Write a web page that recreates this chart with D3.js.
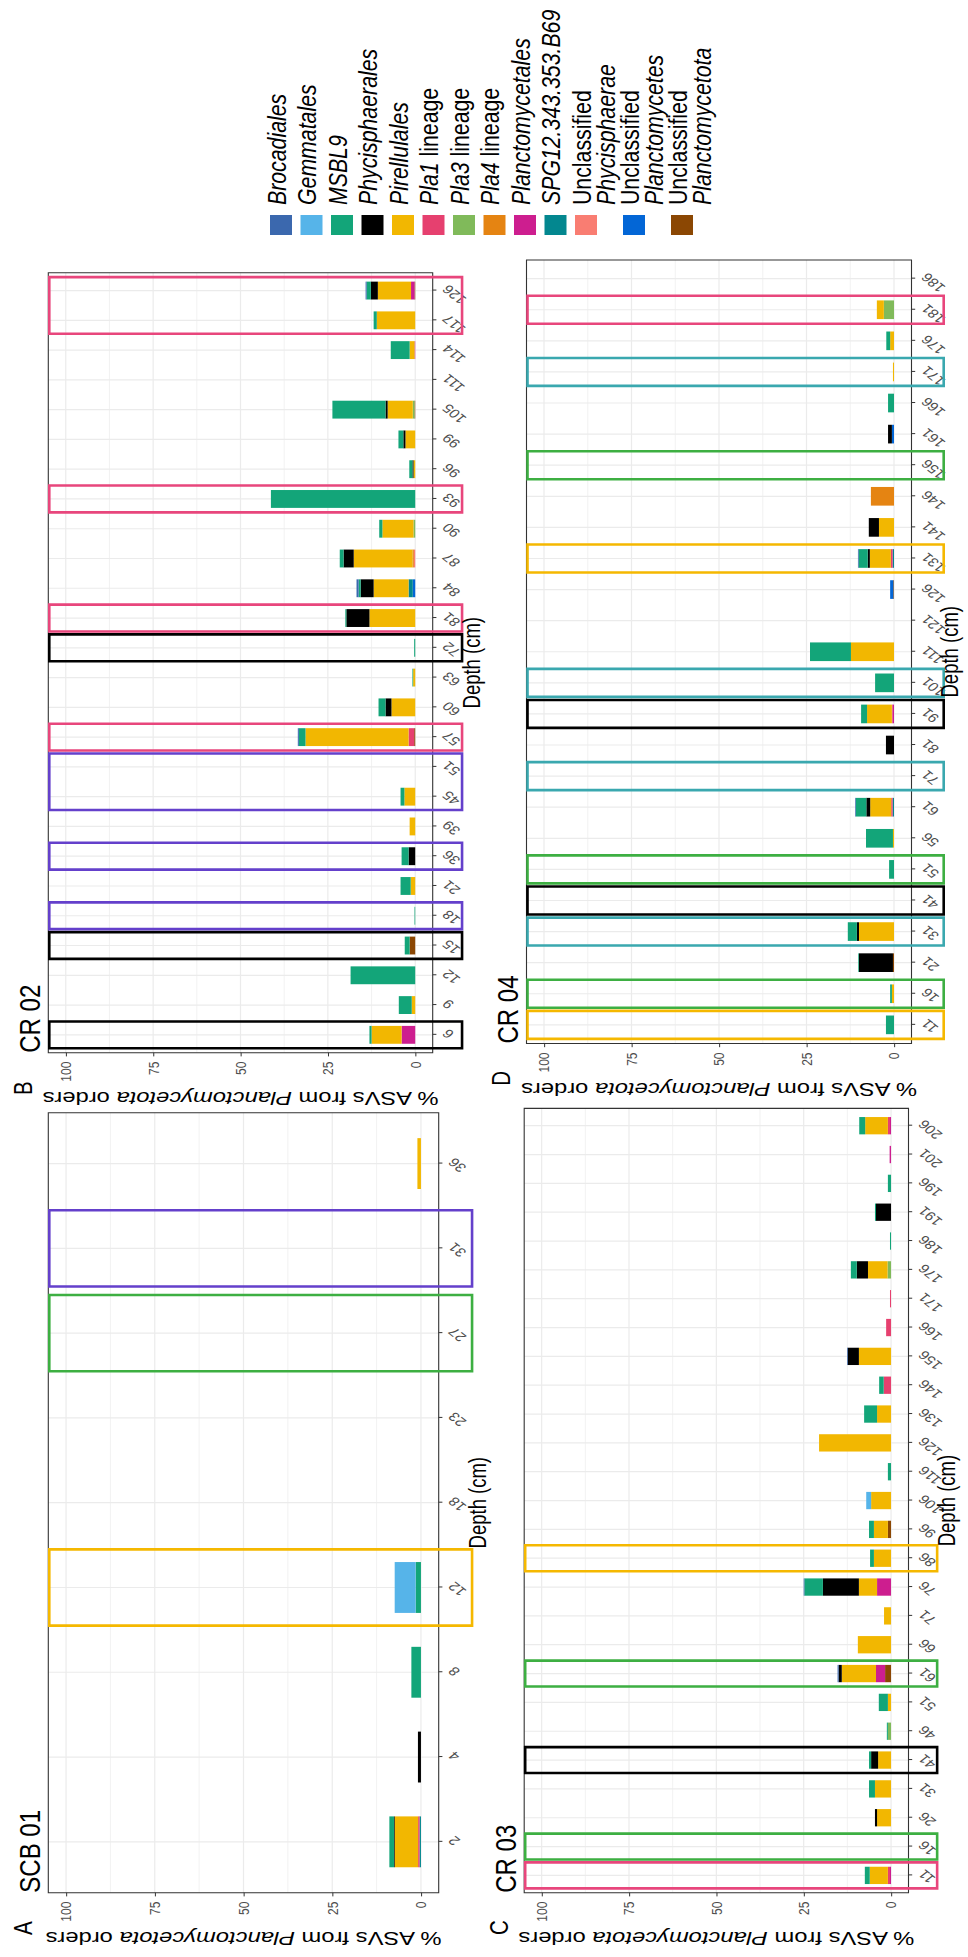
<!DOCTYPE html>
<html>
<head>
<meta charset="utf-8">
<script src="https://cdn.jsdelivr.net/npm/d3@7"></script>
<style>
  body { margin: 0; background: #fff; }
  svg { display: block; }
  text { font-family: "Liberation Sans", Arial, Helvetica, sans-serif; }
</style>
</head>
<body>
<svg id="fig" width="968" height="1957"></svg>
<script>
// ---- Planctomycetota orders (legend order) and fill colours ----
const orders = [
  "Brocadiales", "Gemmatales", "MSBL9", "Phycisphaerales", "Pirellulales",
  "Pla1 lineage", "Pla3 lineage", "Pla4 lineage", "Planctomycetales",
  "SPG12.343.353.B69", "Unclassified Phycisphaerae",
  "Unclassified Planctomycetes", "Unclassified Planctomycetota"
];
const orderColors = [
  "#3B68AE", "#56B4E9", "#13A579", "#000000", "#F2B701",
  "#E6406F", "#80BA5A", "#E58412", "#CD1E8F",
  "#03878F", "#F97D72", "#0366D6", "#8B4703"
];

// ---- % of ASVs per depth (cm) for each core ----
const scb01 = [
  { depth: "2", "MSBL9": 1.3, "Phycisphaerales": 0.2, "Pirellulales": 6.6, "Pla1 lineage": 0.4, "SPG12.343.353.B69": 0.4 },
  { depth: "4", "Phycisphaerales": 0.85 },
  { depth: "8", "MSBL9": 2.7 },
  { depth: "12", "Gemmatales": 5.9, "MSBL9": 1.5 },
  { depth: "18" }, { depth: "23" }, { depth: "27" }, { depth: "31" },
  { depth: "36", "Pirellulales": 1.0 }
];
const cr02 = [
  { depth: "6", "MSBL9": 0.6, "Pirellulales": 8.6, "Planctomycetales": 3.9 },
  { depth: "9", "MSBL9": 3.7, "Pirellulales": 1.0 },
  { depth: "12", "MSBL9": 18.5 },
  { depth: "15", "MSBL9": 1.4, "Unclassified Planctomycetota": 1.6 },
  { depth: "18", "MSBL9": 0.2 },
  { depth: "21", "MSBL9": 2.9, "Pirellulales": 1.3 },
  { depth: "36", "MSBL9": 2.0, "Phycisphaerales": 1.9 },
  { depth: "39", "Pirellulales": 1.6 },
  { depth: "45", "MSBL9": 1.1, "Pirellulales": 3.1 },
  { depth: "51" },
  { depth: "57", "Brocadiales": 0.3, "MSBL9": 1.9, "Pirellulales": 29.5, "Pla1 lineage": 1.6, "Unclassified Planctomycetota": 0.3 },
  { depth: "60", "MSBL9": 2.0, "Phycisphaerales": 1.7, "Pirellulales": 6.8 },
  { depth: "63", "MSBL9": 0.2, "Pirellulales": 0.6 },
  { depth: "72", "MSBL9": 0.3 },
  { depth: "81", "MSBL9": 0.3, "Phycisphaerales": 6.6, "Pirellulales": 13.1 },
  { depth: "84", "Brocadiales": 0.6, "MSBL9": 0.6, "Phycisphaerales": 3.7, "Pirellulales": 10.0, "SPG12.343.353.B69": 1.2, "Unclassified Planctomycetes": 0.7 },
  { depth: "87", "MSBL9": 1.1, "Phycisphaerales": 2.9, "Pirellulales": 16.8, "Pla4 lineage": 0.4, "Unclassified Phycisphaerae": 0.4 },
  { depth: "90", "MSBL9": 0.9, "Pirellulales": 8.9, "Pla3 lineage": 0.5 },
  { depth: "93", "MSBL9": 41.3 },
  { depth: "96", "MSBL9": 0.9, "Phycisphaerales": 0.3, "Pirellulales": 0.5 },
  { depth: "99", "MSBL9": 1.4, "Phycisphaerales": 0.6, "Pirellulales": 2.8 },
  { depth: "105", "MSBL9": 15.2, "Phycisphaerales": 0.6, "Pirellulales": 7.2, "Pla3 lineage": 0.5, "Unclassified Planctomycetota": 0.2 },
  { depth: "111" },
  { depth: "114", "MSBL9": 5.4, "Pirellulales": 1.4, "Planctomycetales": 0.2 },
  { depth: "117", "MSBL9": 0.9, "Pirellulales": 11.0 },
  { depth: "126", "Brocadiales": 0.3, "MSBL9": 1.2, "Phycisphaerales": 2.0, "Pirellulales": 9.5, "Planctomycetales": 1.0, "Unclassified Planctomycetota": 0.2 }
];
const cr03 = [
  { depth: "11", "MSBL9": 1.4, "Pirellulales": 5.2, "Pla1 lineage": 0.6, "Planctomycetales": 0.3 },
  { depth: "16" },
  { depth: "26", "Phycisphaerales": 0.6, "Pirellulales": 4.0 },
  { depth: "31", "MSBL9": 1.7, "Pirellulales": 4.6 },
  { depth: "41", "MSBL9": 0.6, "Phycisphaerales": 2.0, "Pirellulales": 3.7 },
  { depth: "46", "MSBL9": 0.3, "Pla3 lineage": 0.9 },
  { depth: "51", "MSBL9": 2.6, "Pirellulales": 0.9 },
  { depth: "61", "Brocadiales": 0.3, "Phycisphaerales": 0.9, "Pirellulales": 9.8, "Planctomycetales": 2.6, "Unclassified Planctomycetota": 1.7 },
  { depth: "66", "Pirellulales": 9.5 },
  { depth: "71", "Pirellulales": 2.0 },
  { depth: "76", "Brocadiales": 0.2, "MSBL9": 5.3, "Phycisphaerales": 10.3, "Pirellulales": 5.2, "Planctomycetales": 4.0 },
  { depth: "86", "MSBL9": 1.1, "Pirellulales": 4.9 },
  { depth: "96", "MSBL9": 1.4, "Pirellulales": 4.0, "Unclassified Planctomycetota": 0.9 },
  { depth: "106", "Gemmatales": 1.4, "Pirellulales": 5.7 },
  { depth: "116", "MSBL9": 0.9 },
  { depth: "126", "Pirellulales": 20.6 },
  { depth: "136", "MSBL9": 3.7, "Pirellulales": 4.0 },
  { depth: "146", "MSBL9": 1.3, "Pla1 lineage": 2.1 },
  { depth: "156", "Brocadiales": 0.2, "Phycisphaerales": 3.2, "Pirellulales": 9.2 },
  { depth: "166", "Pla1 lineage": 1.4 },
  { depth: "171", "Pla1 lineage": 0.3 },
  { depth: "176", "MSBL9": 1.7, "Phycisphaerales": 3.2, "Pirellulales": 5.6, "Pla3 lineage": 1.0 },
  { depth: "186", "MSBL9": 0.3 },
  { depth: "191", "MSBL9": 0.3, "Phycisphaerales": 4.3 },
  { depth: "196", "MSBL9": 0.9 },
  { depth: "201", "Planctomycetales": 0.4 },
  { depth: "206", "MSBL9": 1.7, "Pirellulales": 6.5, "Pla1 lineage": 0.6, "Planctomycetales": 0.3 }
];
const cr04 = [
  { depth: "11", "MSBL9": 2.3 },
  { depth: "16", "MSBL9": 0.5, "Pirellulales": 0.6 },
  { depth: "21", "MSBL9": 0.2, "Phycisphaerales": 9.7, "Unclassified Planctomycetota": 0.3 },
  { depth: "31", "MSBL9": 2.6, "Phycisphaerales": 0.6, "Pirellulales": 10.0 },
  { depth: "41" },
  { depth: "51", "MSBL9": 1.4 },
  { depth: "56", "MSBL9": 7.7, "Pirellulales": 0.3 },
  { depth: "61", "Brocadiales": 0.2, "MSBL9": 3.0, "Phycisphaerales": 1.1, "Pirellulales": 6.0, "Pla1 lineage": 0.4, "SPG12.343.353.B69": 0.4 },
  { depth: "71" },
  { depth: "81", "Phycisphaerales": 2.3 },
  { depth: "91", "MSBL9": 1.7, "Pirellulales": 7.1, "Pla1 lineage": 0.2, "Planctomycetales": 0.4 },
  { depth: "101", "MSBL9": 5.4 },
  { depth: "111", "MSBL9": 11.7, "Pirellulales": 12.3 },
  { depth: "121" },
  { depth: "126", "Unclassified Planctomycetes": 0.9, "Unclassified Planctomycetota": 0.2 },
  { depth: "131", "Brocadiales": 0.2, "MSBL9": 2.6, "Phycisphaerales": 0.6, "Pirellulales": 6.0, "Pla1 lineage": 0.5, "SPG12.343.353.B69": 0.4 },
  { depth: "141", "Phycisphaerales": 2.9, "Pirellulales": 4.3 },
  { depth: "146", "Pla4 lineage": 6.6 },
  { depth: "156" },
  { depth: "161", "Phycisphaerales": 1.1, "Unclassified Planctomycetes": 0.6 },
  { depth: "166", "MSBL9": 1.7 },
  { depth: "171", "Pirellulales": 0.3 },
  { depth: "176", "MSBL9": 1.1, "Pirellulales": 1.1 },
  { depth: "181", "Pirellulales": 2.0, "Pla3 lineage": 2.9 },
  { depth: "186" }
];

// ---- highlighted depth intervals ----
const boxYellow = "#F5B800", boxGreen = "#3DAF42", boxPurple = "#6440CB",
      boxPink = "#E8467C", boxTeal = "#3AA8AF", boxBlack = "#000000";
const scb01Boxes = [
  { from: "12", to: "12", color: boxYellow },
  { from: "27", to: "27", color: boxGreen },
  { from: "31", to: "31", color: boxPurple }
];
const cr02Boxes = [
  { from: "6", to: "6", color: boxBlack },
  { from: "15", to: "15", color: boxBlack },
  { from: "18", to: "18", color: boxPurple },
  { from: "36", to: "36", color: boxPurple },
  { from: "45", to: "51", color: boxPurple },
  { from: "57", to: "57", color: boxPink },
  { from: "72", to: "72", color: boxBlack },
  { from: "81", to: "81", color: boxPink },
  { from: "93", to: "93", color: boxPink },
  { from: "117", to: "126", color: boxPink }
];
const cr03Boxes = [
  { from: "11", to: "11", color: boxPink },
  { from: "16", to: "16", color: boxGreen },
  { from: "41", to: "41", color: boxBlack },
  { from: "61", to: "61", color: boxGreen },
  { from: "86", to: "86", color: boxYellow }
];
const cr04Boxes = [
  { from: "11", to: "11", color: boxYellow },
  { from: "16", to: "16", color: boxGreen },
  { from: "31", to: "31", color: boxTeal },
  { from: "41", to: "41", color: boxBlack },
  { from: "51", to: "51", color: boxGreen },
  { from: "71", to: "71", color: boxTeal },
  { from: "91", to: "91", color: boxBlack },
  { from: "101", to: "101", color: boxTeal },
  { from: "131", to: "131", color: boxYellow },
  { from: "156", to: "156", color: boxGreen },
  { from: "171", to: "171", color: boxTeal },
  { from: "181", to: "181", color: boxPink }
];

const valueTicks = [0, 25, 50, 75, 100];
const minorTicks = [12.5, 37.5, 62.5, 87.5];

// ---- figure frame: landscape layout, turned a quarter and stretched vertically ----
const S = 1.25;
const svg = d3.select("#fig");
svg.append("rect").attr("width", 968).attr("height", 1957).attr("fill", "#fff");
const root = svg.append("g")
  .attr("transform", `translate(0,1957) rotate(-90) scale(1,${S})`);

const color = d3.scaleOrdinal().domain(orders).range(orderColors);
const stackKeys = orders.slice().reverse();
const NS = "non-scaling-stroke";

const panels = [
  { tag: "A", title: "SCB 01", rows: scb01, boxes: scb01Boxes, x0: 64.3, x1: 844.3, yTop: 48.3, yBot: 438.7, boxMin: -14.4 },
  { tag: "B", title: "CR 02", rows: cr02, boxes: cr02Boxes, x0: 904.3, x1: 1684.3, yTop: 48.3, yBot: 432.7, boxMin: -13.4 },
  { tag: "C", title: "CR 03", rows: cr03, boxes: cr03Boxes, x0: 64.3, x1: 848.6, yTop: 524.2, yBot: 908.5, boxMin: -13.2 },
  { tag: "D", title: "CR 04", rows: cr04, boxes: cr04Boxes, x0: 913.5, x1: 1697, yTop: 526.5, yBot: 911.5, boxMin: -14.2 }
];

panels.forEach(p => {
  const g = root.append("g");
  const depths = p.rows.map(r => r.depth);
  const x = d3.scalePoint().domain(depths).range([p.x0, p.x1]).padding(0.6);
  const y = d3.scaleLinear().domain([-5, 105]).range([p.yBot / S, p.yTop / S]);
  const step = x.step();
  const bw = step * 0.6;
  const top = p.yTop / S, bot = p.yBot / S;

  // grid
  g.append("g").selectAll("line").data(minorTicks).join("line")
    .attr("x1", p.x0).attr("x2", p.x1).attr("y1", d => y(d)).attr("y2", d => y(d))
    .attr("stroke", "#EDEDED").attr("stroke-width", 0.7).attr("vector-effect", NS);
  g.append("g").selectAll("line").data(valueTicks).join("line")
    .attr("x1", p.x0).attr("x2", p.x1).attr("y1", d => y(d)).attr("y2", d => y(d))
    .attr("stroke", "#EBEBEB").attr("stroke-width", 1.2).attr("vector-effect", NS);
  g.append("g").selectAll("line").data(depths).join("line")
    .attr("x1", d => x(d)).attr("x2", d => x(d)).attr("y1", top).attr("y2", bot)
    .attr("stroke", "#EBEBEB").attr("stroke-width", 1.2).attr("vector-effect", NS);

  // stacked bars
  const full = p.rows.map(r => {
    const o = { depth: r.depth };
    orders.forEach(k => { o[k] = r[k] || 0; });
    return o;
  });
  const series = d3.stack().keys(stackKeys)(full);
  g.append("g").selectAll("g").data(series).join("g")
    .attr("fill", s => color(s.key))
    .selectAll("rect").data(s => s.filter(d => d[1] - d[0] > 0)).join("rect")
    .attr("x", d => x(d.data.depth) - bw / 2)
    .attr("width", bw)
    .attr("y", d => y(d[1]))
    .attr("height", d => y(d[0]) - y(d[1]));

  // panel border
  g.append("rect").attr("x", p.x0).attr("y", top).attr("width", p.x1 - p.x0).attr("height", bot - top)
    .attr("fill", "none").attr("stroke", "#333").attr("stroke-width", 1.1).attr("vector-effect", NS);

  // value axis
  g.append("g").attr("transform", `translate(${p.x0},0)`)
    .call(d3.axisLeft(y).tickValues(valueTicks).tickSize(3.7).tickPadding(5.3))
    .call(a => a.select(".domain").remove())
    .call(a => a.selectAll("line").attr("stroke", "#333").attr("vector-effect", NS))
    .call(a => a.selectAll("text").attr("fill", "#4D4D4D").attr("font-size", 12)
      .attr("font-family", "Liberation Sans, Arial, sans-serif"));

  // depth axis
  g.append("g").attr("transform", `translate(0,${bot})`)
    .call(d3.axisBottom(x).tickSize(3.7 / S).tickPadding(0))
    .call(a => a.select(".domain").remove())
    .call(a => a.selectAll("line").attr("stroke", "#333").attr("vector-effect", NS))
    .call(a => a.selectAll("text")
      .attr("y", 0).attr("dy", null)
      .attr("text-anchor", "end")
      .attr("transform", "translate(6,13) rotate(-45)")
      .attr("fill", "#4D4D4D").attr("font-size", 12.5)
      .attr("font-family", "Liberation Sans, Arial, sans-serif"));

  // highlighted intervals
  g.append("g").selectAll("rect").data(p.boxes).join("rect")
    .attr("x", b => x(b.from) - step * 0.45)
    .attr("width", b => x(b.to) - x(b.from) + step * 0.9)
    .attr("y", top + 1.0 / S)
    .attr("height", b => y(p.boxMin) - top - 1.0 / S)
    .attr("fill", "none").attr("stroke", b => b.color)
    .attr("stroke-width", 2.6).attr("vector-effect", NS);

  // value axis title
  const yt = g.append("text")
    .attr("transform", `translate(${p.x0 - 39.5},${(top + bot) / 2}) rotate(-90)`)
    .attr("text-anchor", "middle").attr("font-size", 19).attr("fill", "#000");
  yt.append("tspan").text("% ASVs from ");
  yt.append("tspan").attr("font-style", "italic").text("Planctomycetota");
  yt.append("tspan").text(" orders");

  // depth axis title
  g.append("text").attr("x", (p.x0 + p.x1) / 2).attr("y", bot + 37.5)
    .attr("text-anchor", "middle").attr("font-size", 18.5).attr("fill", "#000")
    .text("Depth (cm)");

  // core name and panel tag
  g.append("text").attr("x", p.x0).attr("y", top - 8.3 / S)
    .attr("font-size", 24).attr("fill", "#000").text(p.title);
  g.append("text").attr("x", p.x0 - 42.3).attr("y", top - 16.6 / S)
    .attr("font-size", 20.5).attr("fill", "#000").text(p.tag);
});

// ---- legend ----
const legend = root.append("g");
let ly = 270;
orders.forEach(name => {
  const g = legend.append("g");
  g.append("rect").attr("x", 1722).attr("y", ly / S).attr("width", 20).attr("height", 22 / S)
    .attr("fill", color(name));
  const base = (ly + 16) / S;
  let lines;
  if (name.startsWith("Unclassified ")) {
    lines = [[["Unclassified", false]], [[name.slice(13), true]]];
  } else if (name.endsWith(" lineage")) {
    lines = [[[name.slice(0, 4), true], [" lineage", false]]];
  } else {
    lines = [[[name, true]]];
  }
  lines.forEach((parts, i) => {
    const t = g.append("text").attr("x", 1752).attr("y", base + i * 24.5 / S)
      .attr("font-size", 21.3).attr("fill", "#000");
    parts.forEach(([str, it]) => t.append("tspan").attr("font-style", it ? "italic" : "normal").text(str));
  });
  ly += lines.length > 1 ? 48 : 30.5;
});
</script>
</body>
</html>
